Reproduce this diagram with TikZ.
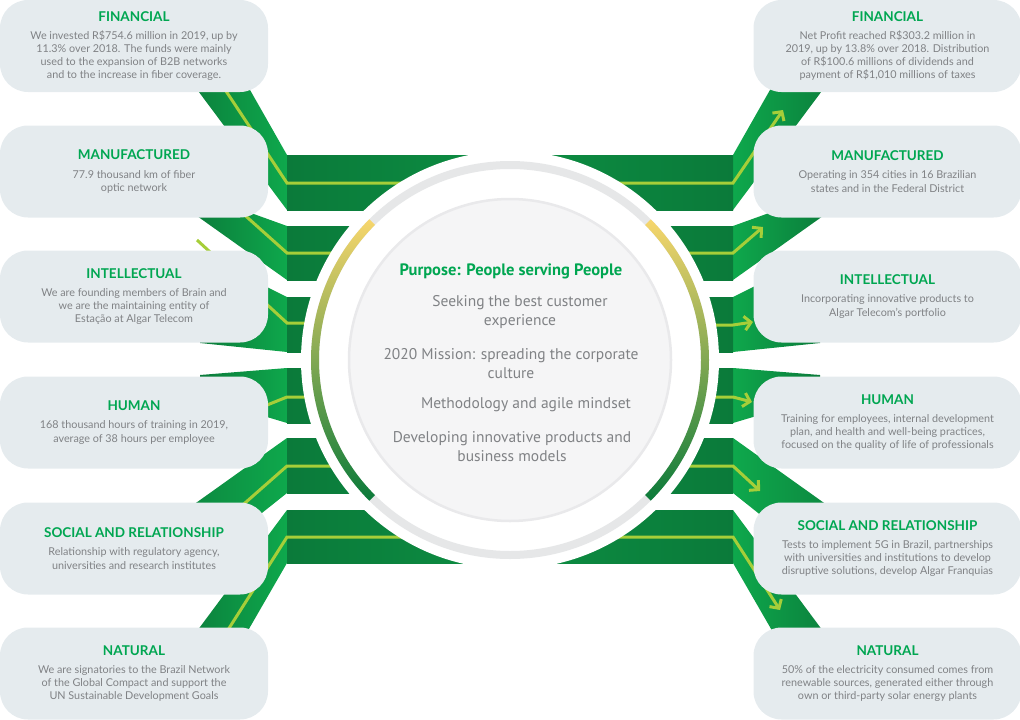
\documentclass[tikz,border=0pt]{standalone}
\usepackage{fontspec}
\setmainfont{Lato}
\newfontfamily\myriadlike{PT Sans}
\usetikzlibrary{arrows.meta}
\definecolor{mygreen1}{RGB}{11,122,58}
\definecolor{mygreen2}{RGB}{12,142,66}
\definecolor{mygreen3}{RGB}{14,168,76}
\definecolor{mylime}{RGB}{166,206,57}
\definecolor{mytitle}{RGB}{0,166,81}
\definecolor{mytext}{RGB}{128,130,133}
\definecolor{mygray1}{RGB}{229,235,238}
\definecolor{mygray2}{RGB}{230,231,232}
\definecolor{mygray3}{RGB}{245,245,246}
\definecolor{mygray4}{RGB}{233,233,235}
\definecolor{myyellow}{RGB}{247,214,108}
\definecolor{myarcgreen}{RGB}{100,190,70}

\newcommand{\head}[1]{{\fontsize{13.5}{16}\selectfont\bfseries\color{mytitle}#1}\\[5pt]}

% the six green ribbons of one side (left side coordinates)
\newcommand{\ribbons}{%
\path[dsec] (287,155) -- (233,60) -- (175,60) -- (287,210) -- cycle;
\path[hsec] (287,155) rectangle (510,210);
\path[dsec] (287,226) -- (190,191) -- (190,211) -- (287,280) -- cycle;
\path[hsec] (287,226) rectangle (510,280);
\path[dsec] (287,297) -- (200,253.5) -- (200,343) -- (287,352) -- cycle;
\path[hsec] (287,297) rectangle (510,352);
\path[dsec] (287,368) -- (200,375) -- (200,397) -- (287,423) -- cycle;
\path[hsec] (287,368) rectangle (510,423);
\path[dsec] (287,438) -- (144,540) -- (228,540) -- (287,493) -- cycle;
\path[hsec] (287,438) rectangle (510,493);
\path[dsec] (287,510) -- (175.5,660) -- (231,660) -- (287,563) -- cycle;
\path[hsec] (287,510) rectangle (510,563);
}

\begin{document}
\begin{tikzpicture}[
    x = 1pt, y = -1pt,
    hsec/.style = {left color = mygreen1, right color = mygreen2},
    dsec/.style = {left color = mygreen1, right color = mygreen3},
    lime/.style = {draw = mylime, line width = 3pt},
    tip/.style = {-{Straight Barb[length = 6.5pt, width = 14pt]}},
    box/.style = {fill = mygray1, rounded corners = 28pt, minimum width = 268pt, minimum height = 92pt,
                  inner sep = 0pt, align = center, text = mytext, font = \fontsize{10.8}{13.2}\selectfont},
    ctext/.style = {text = mytext, align = center, font = \myriadlike\fontsize{15.5}{19}\selectfont}
]
\useasboundingbox (0,0) rectangle (1020,720);
\coordinate (ctr) at (510,360);

% left ribbons
\ribbons
\draw[lime] (510,183) -- (287,183) -- (210,67);
\draw[lime] (510,253) -- (287,253) -- (220,193);
\draw[lime] (510,323) -- (287,323) -- (197,240);
\draw[lime] (510,397) -- (287,397) -- (220,424);
\draw[lime] (510,466) -- (287,466) -- (220,525);
\draw[lime] (510,537) -- (287,537) -- (212,655);

% right ribbons
\begin{scope}[shift = {(1020,0)}, xscale = -1,
    hsec/.style = {left color = mygreen2, right color = mygreen1},
    dsec/.style = {left color = mygreen3, right color = mygreen1}]
\ribbons
\end{scope}
\draw[lime, tip] (510,183) -- (733,183) -- (783,110);
\draw[lime, tip] (510,253) -- (733,253) -- (763,227);
\draw[lime, tip] (510,325) -- (733,325) -- (753,322);
\draw[lime, tip] (510,397) -- (733,397) -- (752,402);
\draw[lime, tip] (510,466) -- (733,466) -- (760,491);
\draw[lime, tip] (510,537) -- (733,537) -- (780,610);

% capitals, left
\node[box] (finl) at (134,46) {\head{FINANCIAL}We invested R\$754.6 million in 2019, up by\\11.3\% over 2018. The funds were mainly\\used to the expansion of B2B networks\\and to the increase in fiber coverage.};
\node[box] (manl) at (134,171.5) {\head{MANUFACTURED}77.9 thousand km of fiber\\optic network};
\node[box] (intl) at (134,296.5) {\head{INTELLECTUAL}We are founding members of Brain and\\we are the maintaining entity of\\Estação at Algar Telecom};
\node[box] (huml) at (134,422.5) {\head{HUMAN}168 thousand hours of training in 2019,\\average of 38 hours per employee};
\node[box] (socl) at (134,548.5) {\head{SOCIAL AND RELATIONSHIP}Relationship with regulatory agency,\\universities and research institutes};
\node[box] (natl) at (134,673.5) {\head{NATURAL}We are signatories to the Brazil Network\\of the Global Compact and support the\\UN Sustainable Development Goals};

% capitals, right
\node[box] (finr) at (887.5,46) {\head{FINANCIAL}Net Profit reached R\$303.2 million in\\2019, up by 13.8\% over 2018. Distribution\\of R\$100.6 millions of dividends and\\payment of R\$1,010 millions of taxes};
\node[box] (manr) at (887.5,171.5) {\head{MANUFACTURED}Operating in 354 cities in 16 Brazilian\\states and in the Federal District};
\node[box] (intr) at (887.5,296.5) {\head{INTELLECTUAL}Incorporating innovative products to\\Algar Telecom’s portfolio};
\node[box] (humr) at (887.5,422.5) {\head{HUMAN}Training for employees, internal development\\plan, and health and well-being practices,\\focused on the quality of life of professionals};
\node[box] (socr) at (887.5,548.5) {\head{SOCIAL AND RELATIONSHIP}Tests to implement 5G in Brazil, partnerships\\with universities and institutions to develop\\disruptive solutions, develop Algar Franquias};
\node[box] (natr) at (887.5,673.5) {\head{NATURAL}50\% of the electricity consumed comes from\\renewable sources, generated either through\\own or third-party solar energy plants};

% centre disc
\fill[white] (ctr) circle[radius = 209];
\draw[mygray2, line width = 8pt] (ctr) circle[radius = 195];
\path[top color = myyellow, middle color = myarcgreen, bottom color = mygreen1]
  ([shift = {(135:191)}]ctr) arc[start angle = 135, end angle = 225, radius = 191]
  -- ([shift = {(225:199)}]ctr) arc[start angle = 225, end angle = 135, radius = 199] -- cycle;
\path[top color = myyellow, middle color = myarcgreen, bottom color = mygreen1]
  ([shift = {(-45:191)}]ctr) arc[start angle = -45, end angle = 45, radius = 191]
  -- ([shift = {(45:199)}]ctr) arc[start angle = 45, end angle = -45, radius = 199] -- cycle;
\draw[fill = mygray3, draw = mygray4, line width = 2.5pt] (ctr) circle[radius = 161];

\node[text = mytitle, font = \myriadlike\bfseries\fontsize{16.5}{19}\selectfont] (purpose) at (511,271) {Purpose: People serving People};
\node[ctext] (seeking) at (520,312.5) {Seeking the best customer\\experience};
\node[ctext] (mission) at (511,364) {2020 Mission: spreading the corporate\\culture};
\node[ctext] (agile) at (526,405) {Methodology and agile mindset};
\node[ctext] (develop) at (512,446.5) {Developing innovative products and\\business models};

\end{tikzpicture}
\end{document}
